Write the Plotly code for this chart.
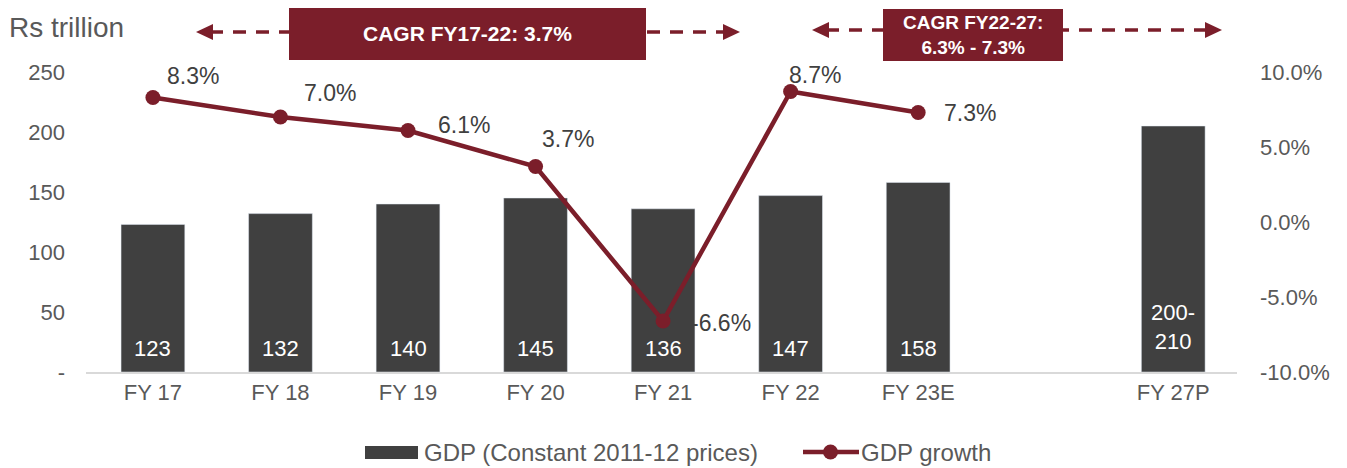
import plotly.graph_objects as go

categories = ["FY 17", "FY 18", "FY 19", "FY 20", "FY 21", "FY 22", "FY 23E", " ", "FY 27P"]
gdp = [123, 132, 140, 145, 136, 147, 158, None, 205]
gdp_labels = ["123", "132", "140", "145", "136", "147", "158", "", "200-<br>210"]
growth_cats = ["FY 17", "FY 18", "FY 19", "FY 20", "FY 21", "FY 22", "FY 23E"]
growth = [8.3, 7.0, 6.1, 3.7, -6.6, 8.7, 7.3]
left_ticks = [0, 50, 100, 150, 200, 250]
left_ticktext = ["-", "50", "100", "150", "200", "250"]
right_ticks = [-10, -5, 0, 5, 10]
right_ticktext = ["-10.0%", "-5.0%", "0.0%", "5.0%", "10.0%"]

BAR = "#404040"
RED = "#7B1E2A"
GREY = "#595959"
FONT = "Liberation Sans"

W, H = 1347, 468
L, R, T, B = 86, 110, 72, 96
PW, PH = W - L - R, H - T - B

def px(x):
    return (x - L) / PW

def py(y):
    return (H - B - y) / PH

fig = go.Figure()
fig.add_trace(go.Bar(
    x=categories, y=gdp, name="GDP (Constant 2011-12 prices)",
    marker_color=BAR, width=0.5, showlegend=False,
))
fig.add_trace(go.Scatter(
    x=growth_cats, y=growth, yaxis="y2", name="GDP growth", showlegend=False,
    mode="lines+markers", line=dict(color=RED, width=4.5),
    marker=dict(color=RED, size=15),
))

annotations = []
# bar value labels near the base
for c, lab in zip(categories, gdp_labels):
    if not lab:
        continue
    two = "<br>" in lab
    annotations.append(dict(
        x=c, y=0, xref="x", yref="y", text=lab, showarrow=False,
        xanchor="center", yanchor="middle", yshift=45 if two else 24,
        font=dict(size=22, color="white", family=FONT)))

# growth labels (offsets in pixels)
label_offsets = [(12, 22), (22, 24), (28, 6), (4, 28), (26, -2), (-4, 17), (24, 0)]
for c, g, (dx, dy) in zip(growth_cats, growth, label_offsets):
    annotations.append(dict(
        x=c, y=g, xref="x", yref="y2", text=f"{g:.1f}%", showarrow=False,
        xanchor="left", yanchor="middle", xshift=dx, yshift=dy,
        font=dict(size=23, color="#404040", family=FONT)))

annotations.append(dict(x=px(7), y=py(28), xref="paper", yref="paper",
                        text="Rs trillion", showarrow=False, xanchor="left",
                        yanchor="middle", font=dict(size=28, color=GREY, family=FONT)))

shapes = []
def arrow(x0, x1, y):
    shapes.append(dict(type="line", xref="paper", yref="paper",
                       x0=px(x0 + 14), x1=px(x1 - 14), y0=py(y), y1=py(y),
                       line=dict(color=RED, width=3.5, dash="13px,10px")))
    for tip, d in ((x0, 1), (x1, -1)):
        path = (f"M {px(tip)} {py(y)} L {px(tip + d*17)} {py(y-8)} "
                f"L {px(tip + d*17)} {py(y+8)} Z")
        shapes.append(dict(type="path", xref="paper", yref="paper", path=path,
                           fillcolor=RED, line=dict(width=0)))

def box(x0, x1, y0, y1, text, size):
    shapes.append(dict(type="rect", xref="paper", yref="paper",
                       x0=px(x0), x1=px(x1), y0=py(y1), y1=py(y0),
                       fillcolor=RED, line=dict(width=0)))
    annotations.append(dict(x=px((x0 + x1) / 2), y=py((y0 + y1) / 2),
                            xref="paper", yref="paper", text=text, showarrow=False,
                            xanchor="center", yanchor="middle",
                            font=dict(size=size, color="white", family=FONT)))

arrow(196, 740, 32)
box(289, 646, 8, 60, "<b>CAGR FY17-22: 3.7%</b>", 21)
arrow(812, 1222, 30)
box(883, 1063, 9, 61, "<b>CAGR FY22-27:</b><br><b>6.3% - 7.3%</b>", 19)

# manual legend
shapes.append(dict(type="rect", xref="paper", yref="paper",
                   x0=px(365), x1=px(418), y0=py(459), y1=py(446),
                   fillcolor=BAR, line=dict(width=0)))
annotations.append(dict(x=px(422), y=py(452), xref="paper", yref="paper",
                        text="GDP (Constant 2011-12 prices)", showarrow=False,
                        xanchor="left", yanchor="middle",
                        font=dict(size=24, color=GREY, family=FONT)))
shapes.append(dict(type="line", xref="paper", yref="paper",
                   x0=px(803), x1=px(859), y0=py(452), y1=py(452),
                   line=dict(color=RED, width=4.5)))
shapes.append(dict(type="circle", xref="paper", yref="paper",
                   x0=px(823), x1=px(838), y0=py(459.5), y1=py(444.5),
                   fillcolor=RED, line=dict(width=0)))
annotations.append(dict(x=px(859), y=py(452), xref="paper", yref="paper",
                        text="GDP growth", showarrow=False,
                        xanchor="left", yanchor="middle",
                        font=dict(size=24, color=GREY, family=FONT)))

fig.update_layout(
    width=W, height=H, margin=dict(l=L, r=R, t=T, b=B),
    plot_bgcolor="white", paper_bgcolor="white",
    font=dict(family=FONT, color=GREY, size=22),
    bargap=0.5, showlegend=False,
    xaxis=dict(type="category", categoryorder="array", categoryarray=categories,
               showline=True, linecolor="#D9D9D9", linewidth=2, showgrid=False,
               ticks="", tickfont=dict(size=22, color=GREY)),
    yaxis=dict(range=[0, 250], tickvals=left_ticks, ticktext=left_ticktext,
               showgrid=False, zeroline=False, tickfont=dict(size=22, color=GREY),
               ticklabelstandoff=20),
    yaxis2=dict(range=[-10, 10], overlaying="y", side="right", tickvals=right_ticks,
                ticktext=right_ticktext, showgrid=False, zeroline=False,
                tickfont=dict(size=22, color=GREY), ticklabelstandoff=22),
    annotations=annotations, shapes=shapes,
)

fig.write_html("out.html", config={"displayModeBar": False},
               post_script="document.body.style.margin='0';document.body.style.overflow='hidden';")
